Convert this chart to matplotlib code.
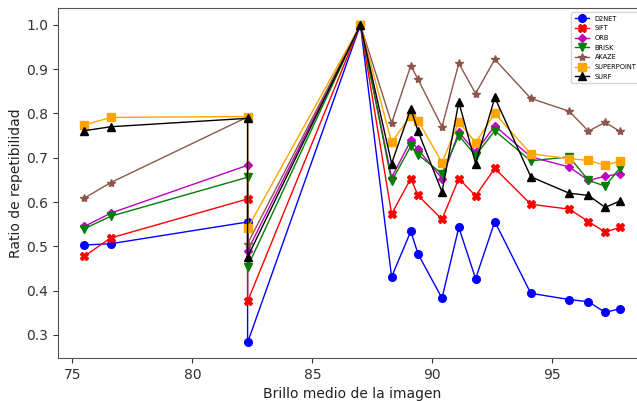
import matplotlib
matplotlib.use("Agg")
import matplotlib.pyplot as plt

# Mean image brightness for each test image (two captures share x = 82.3)
brillo = [75.5, 76.6, 82.3, 82.3, 87.0, 88.3, 89.1, 89.4, 90.4, 91.1,
          91.8, 92.6, 94.1, 95.7, 96.5, 97.2, 97.8]

d2net = [0.503, 0.506, 0.555, 0.283, 1.0, 0.431, 0.534, 0.483, 0.383, 0.543,
         0.427, 0.556, 0.394, 0.380, 0.375, 0.351, 0.359]
sift = [0.478, 0.519, 0.607, 0.376, 1.0, 0.573, 0.653, 0.615, 0.561, 0.653,
        0.614, 0.676, 0.595, 0.584, 0.556, 0.532, 0.543]
orb = [0.545, 0.575, 0.683, 0.490, 1.0, 0.655, 0.739, 0.719, 0.653, 0.758,
       0.713, 0.772, 0.702, 0.679, 0.649, 0.658, 0.664]
brisk = [0.540, 0.568, 0.656, 0.454, 1.0, 0.647, 0.726, 0.707, 0.664, 0.750,
         0.705, 0.761, 0.693, 0.702, 0.649, 0.636, 0.676]
akaze = [0.609, 0.644, 0.792, 0.506, 1.0, 0.778, 0.908, 0.877, 0.770, 0.913,
         0.845, 0.922, 0.834, 0.805, 0.760, 0.780, 0.760]
superpoint = [0.774, 0.791, 0.793, 0.541, 1.0, 0.735, 0.795, 0.784, 0.689, 0.781,
              0.734, 0.800, 0.709, 0.698, 0.694, 0.683, 0.692]
surf = [0.761, 0.770, 0.789, 0.476, 1.0, 0.687, 0.811, 0.760, 0.623, 0.826,
        0.687, 0.836, 0.657, 0.620, 0.615, 0.588, 0.602]

series = [
    ("D2NET", d2net, "blue", "o", 5.5),
    ("SIFT", sift, "red", "X", 5.5),
    ("ORB", orb, "m", "D", 4.5),
    ("BRISK", brisk, "green", "v", 5.5),
    ("AKAZE", akaze, "tab:brown", "*", 6.0),
    ("SUPERPOINT", superpoint, "orange", "s", 5.5),
    ("SURF", surf, "black", "^", 5.5),
]

fig = plt.figure(figsize=(6.37, 4.01), dpi=100)
ax = fig.add_axes([58 / 637, 43 / 401, 588 / 637, 350 / 401])

for name, vals, color, marker, ms in series:
    ax.plot(brillo, vals, color=color, marker=marker, markersize=ms,
            linewidth=1.0, label=name)

ax.set_xlim(74.4, 98.9)
ax.set_ylim(0.248, 1.038)
ax.set_xticks([75, 80, 85, 90, 95])
ax.set_yticks([0.3, 0.4, 0.5, 0.6, 0.7, 0.8, 0.9, 1.0])
ax.tick_params(labelsize=10, colors="#333333")
for sp in ax.spines.values():
    sp.set_color("#555555")

ax.set_xlabel("Brillo medio de la imagen", fontsize=10, color="#222222")
ax.set_ylabel("Ratio de repetibilidad", fontsize=10, color="#222222",
              labelpad=2)

ax.legend(loc="upper left", bbox_to_anchor=(568 / 637, 1 - 9 / 401),
          bbox_transform=fig.transFigure, fontsize=4.8, markerscale=1.0,
          labelspacing=0.55, handlelength=2.2, borderpad=0.5, frameon=True)

fig.savefig("out.png", dpi=100)
